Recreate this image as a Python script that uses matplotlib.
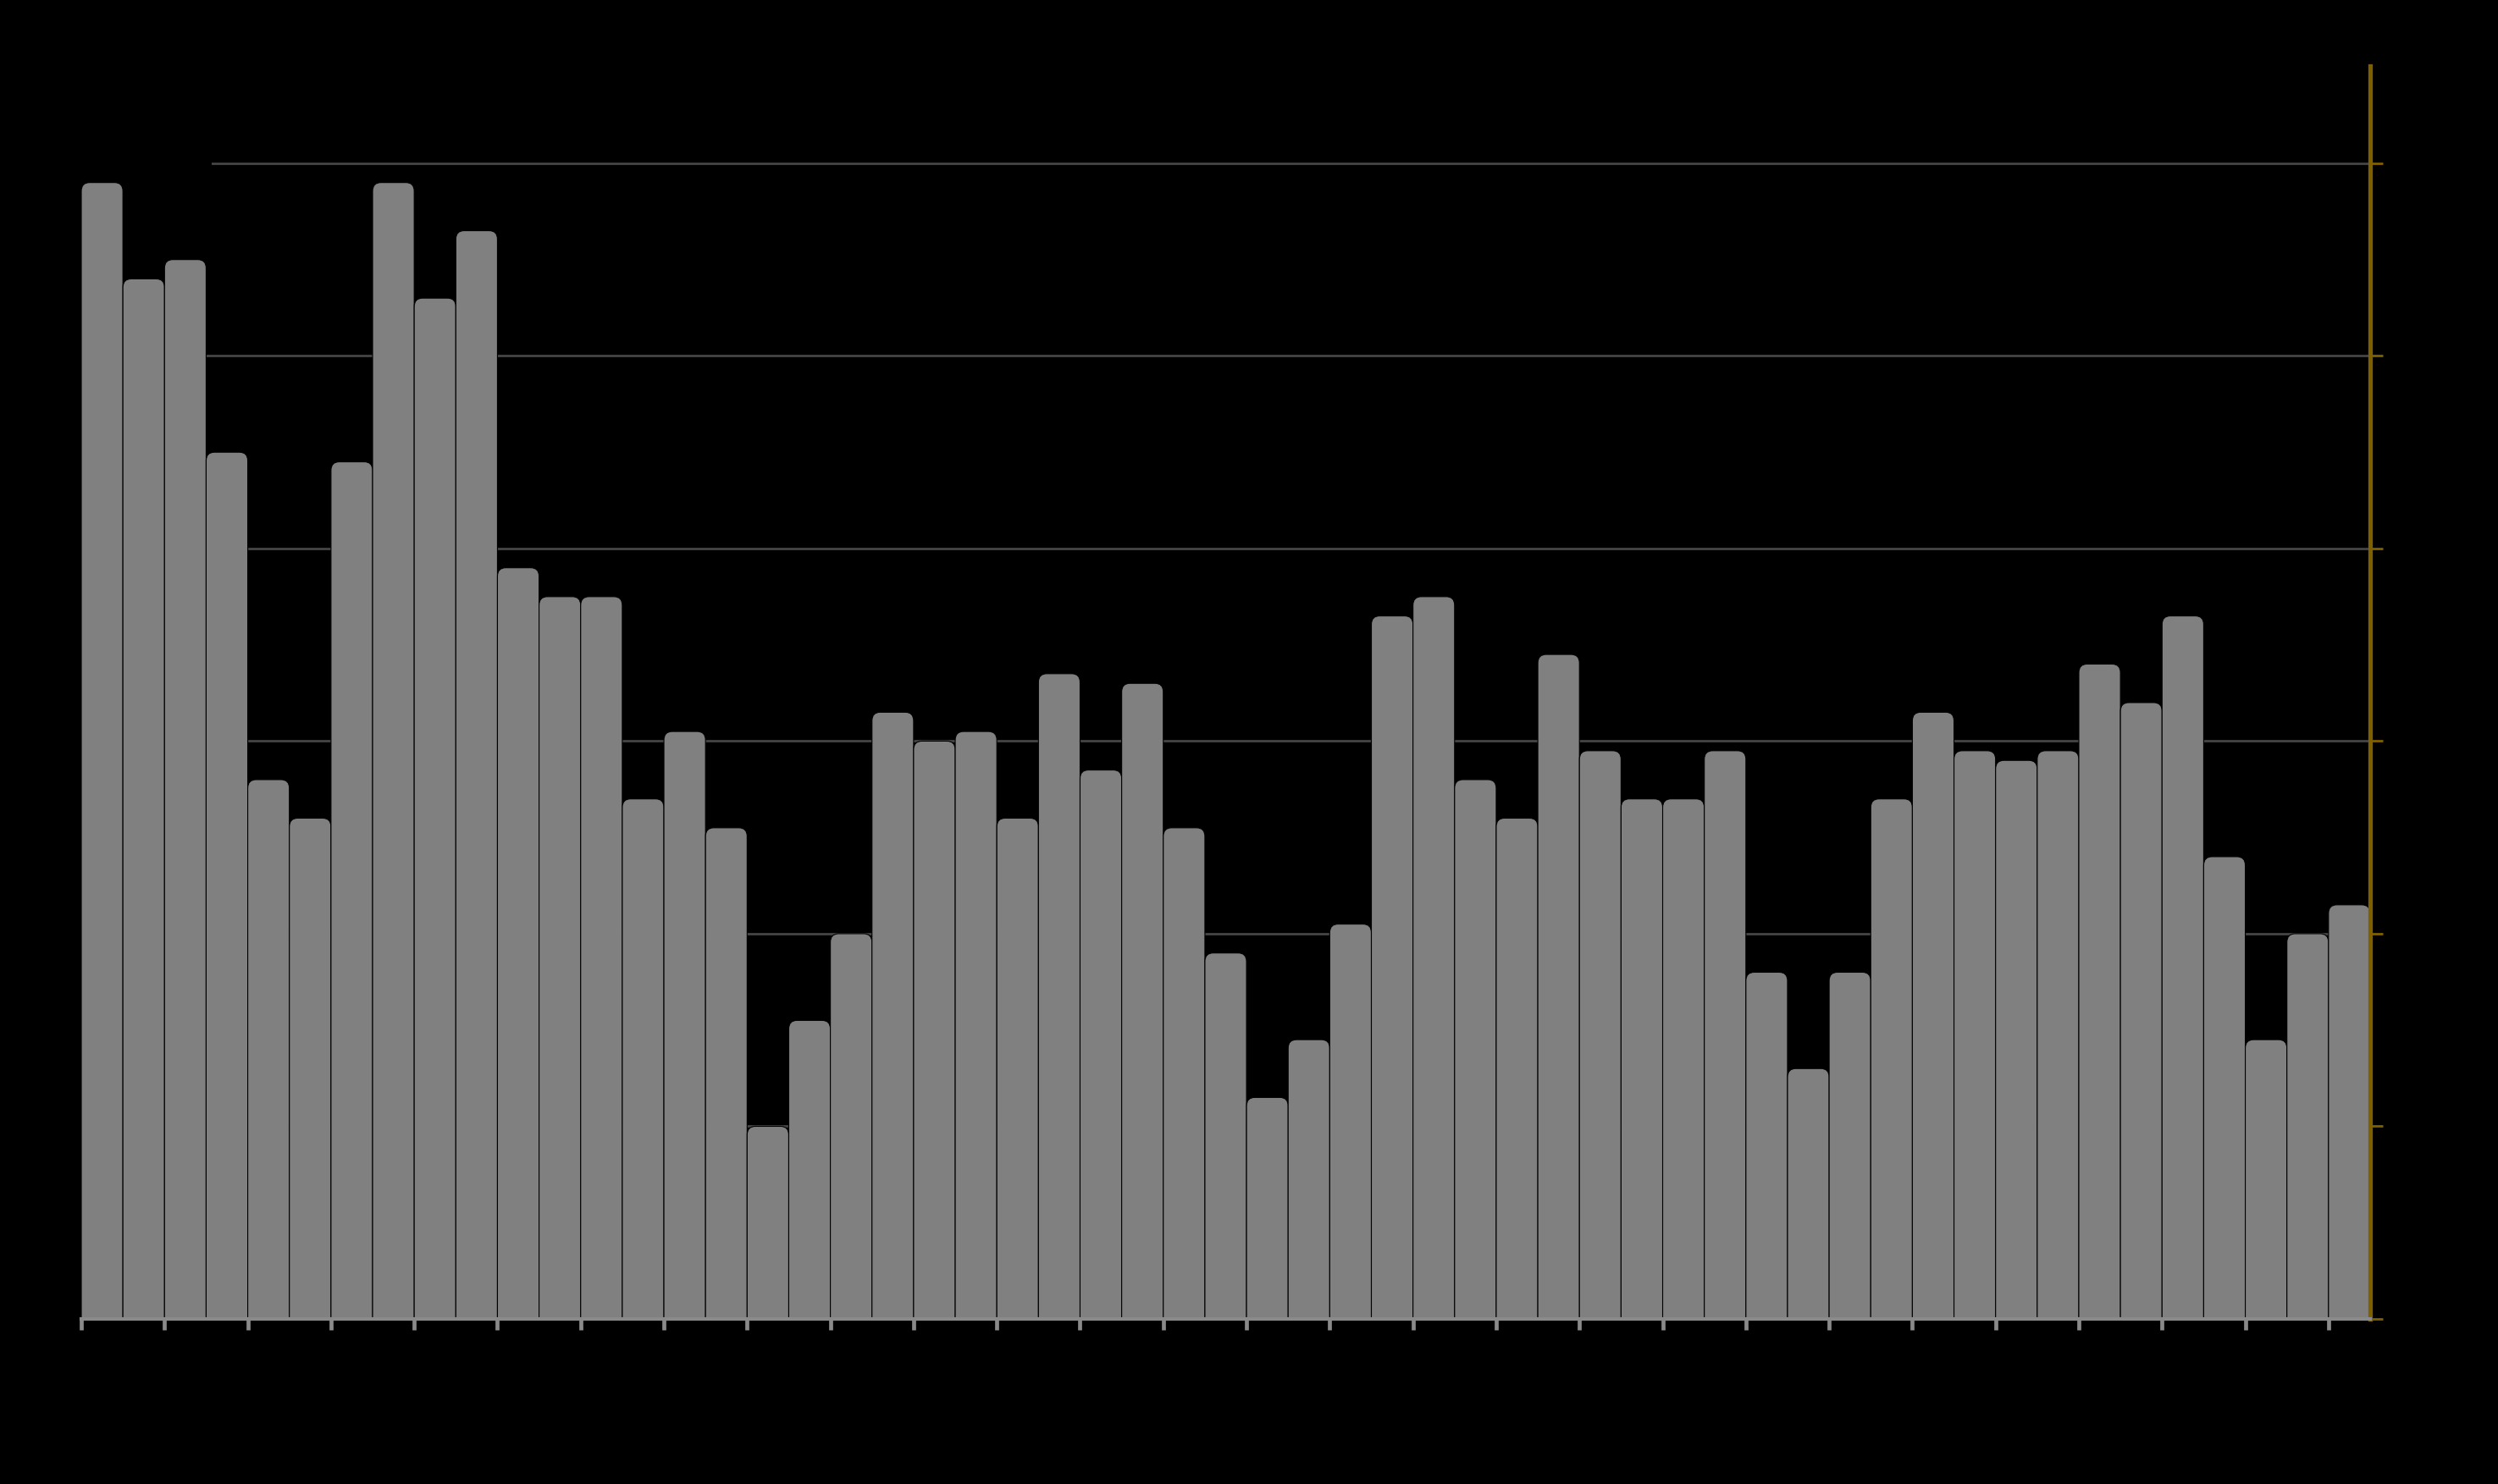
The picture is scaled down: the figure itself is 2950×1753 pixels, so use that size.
import matplotlib
matplotlib.use('Agg')
import matplotlib.pyplot as plt
from matplotlib.patches import FancyBboxPatch, Rectangle
import numpy as np

# bar values (left to right)
values = [118, 108, 110, 90, 56, 52, 89, 118, 106, 113,
          78, 75, 75, 54, 61, 51, 20, 31, 40, 63,
          60, 61, 52, 67, 57, 66, 51, 38, 23, 29,
          41, 73, 75, 56, 52, 69, 59, 54, 54, 59,
          36, 26, 36, 54, 63, 59, 58, 59, 68, 64,
          73, 48, 29, 40, 43]
y_ticks = [0, 20, 40, 60, 80, 100, 120]

bar_color = '#808080'
grid_color = '#454545'
gold = '#7f6000'

fig = plt.figure(figsize=(29.5, 17.53), dpi=100, facecolor='black')
ax = fig.add_axes([96/2950, 1 - 1558/1753, (2799 - 96)/2950, (1558 - 78)/1753])
ax.set_facecolor('black')

x = np.arange(len(values))
for xi, v in zip(x, values):
    p = FancyBboxPatch((xi - 0.5, -5), 1, v + 5,
                       boxstyle="round,pad=0,rounding_size=0.2",
                       mutation_aspect=4.4,
                       facecolor=bar_color, edgecolor='black', linewidth=0.8,
                       zorder=2)
    ax.add_patch(p)

ax.set_xlim(-0.5, len(values) - 0.5)
ax.set_ylim(0, 130.1)

# grid
ax.set_axisbelow(True)
ax.yaxis.grid(True, color=grid_color, linewidth=2.0)
ax.xaxis.grid(False)
# black block hiding the start of the top gridline
ax.add_patch(Rectangle((0, 0.88), (250 - 96)/(2799 - 96), 0.08, transform=ax.transAxes,
                       facecolor='black', edgecolor='none', zorder=0.8))

# y axis on the right
ax.yaxis.tick_right()
ax.set_yticks(y_ticks)
ax.tick_params(axis='y', which='major', direction='out', length=11, width=2.0,
               color=gold, labelright=False, labelleft=False)

# x ticks at every second bar boundary
ax.set_xticks(np.arange(-0.5, len(values) - 0.5, 2))
ax.tick_params(axis='x', which='major', direction='out', length=9.5, width=3.4,
               color='#8a8a8a', labelbottom=False)

for s in ['top', 'left']:
    ax.spines[s].set_visible(False)
ax.spines['right'].set_color(gold)
ax.spines['right'].set_linewidth(3.8)
ax.spines['bottom'].set_color('#8a8a8a')
ax.spines['bottom'].set_linewidth(3.0)
ax.spines['bottom'].set_zorder(3)

fig.savefig('out.png', dpi=100, facecolor='black')
